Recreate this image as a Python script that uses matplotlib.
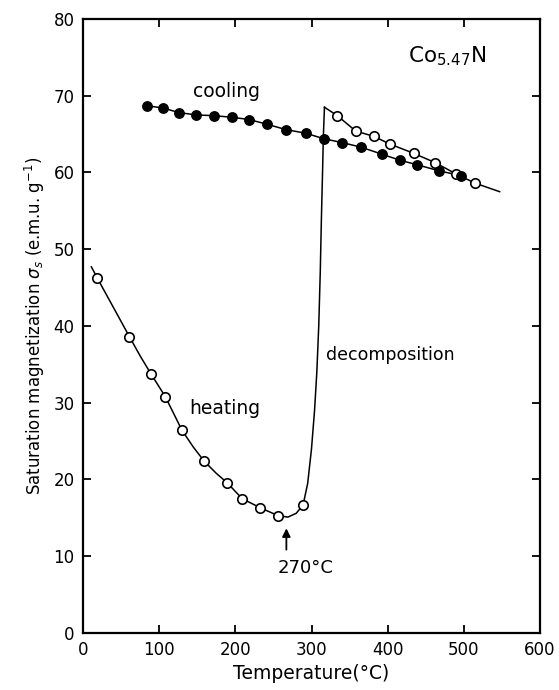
import matplotlib
matplotlib.use("Agg")
import matplotlib.pyplot as plt

# cooling run (filled circles)
cool_T = [84, 105, 126, 149, 172, 195, 218, 241, 266, 293, 316, 340, 365, 392, 416, 439, 468, 496]
cool_s = [68.7, 68.4, 67.8, 67.5, 67.4, 67.2, 66.9, 66.3, 65.6, 65.1, 64.4, 63.9, 63.3, 62.4, 61.6, 61.0, 60.2, 59.6]

# heating run, low-temperature branch (open circles)
heat_T = [19, 61, 89, 108, 130, 159, 189, 209, 233, 256, 289]
heat_s = [46.2, 38.6, 33.8, 30.8, 26.4, 22.4, 19.6, 17.5, 16.3, 15.3, 16.7]

# heating curve drawn through the points, incl. minimum and decomposition rise
heat_line_T = [11, 19, 40, 61, 75, 89, 108, 130, 145, 159, 175, 189, 209, 233, 256, 269, 280, 289,
               295, 300, 304, 307, 309.5, 311.5, 313, 314.5, 315.5, 317]
heat_line_s = [47.7, 46.2, 42.4, 38.6, 36.1, 33.8, 30.8, 26.4, 24.2, 22.4, 20.8, 19.6, 17.5, 16.3, 15.3,
               15.1, 15.6, 16.7, 19.5, 24.0, 29.0, 34.0, 40.0, 47.0, 54.0, 60.0, 64.5, 68.5]

# heating run after decomposition (open circles)
hot_T = [334, 358, 382, 403, 434, 462, 490, 515]
hot_s = [67.4, 65.4, 64.7, 63.7, 62.5, 61.3, 59.8, 58.6]
hot_line_T = [317] + hot_T + [547]
hot_line_s = [68.5] + hot_s + [57.5]

fs = 12
fig = plt.figure(figsize=(5.59, 6.90), dpi=100)
ax = fig.add_axes([0.1485, 0.0826, 0.8175, 0.8899])

ax.plot(heat_line_T, heat_line_s, color="black", lw=1.1, zorder=2)
ax.plot(hot_line_T, hot_line_s, color="black", lw=1.1, zorder=2)
ax.plot(cool_T, cool_s, color="black", lw=1.1, zorder=2)

ax.plot(cool_T, cool_s, "o", ms=6.8, mfc="black", mec="black", zorder=4)
ax.plot(heat_T, heat_s, "o", ms=6.8, mfc="white", mec="black", mew=1.2, zorder=3)
ax.plot(hot_T, hot_s, "o", ms=6.8, mfc="white", mec="black", mew=1.2, zorder=3)

ax.annotate("", xy=(267, 14.0), xytext=(267, 10.5),
            arrowprops=dict(arrowstyle="-|>", color="black", lw=1.3, mutation_scale=12))
ax.text(292, 8.5, "270°C", ha="center", va="center", fontsize=13)
ax.text(189, 70.6, "cooling", ha="center", va="center", fontsize=13.5)
ax.text(186, 29.2, "heating", ha="center", va="center", fontsize=13.5)
ax.text(404, 36.2, "decomposition", ha="center", va="center", fontsize=12.5)
ax.text(478, 75.1, r"Co$_{5.47}$N", ha="center", va="center", fontsize=15.5)

ax.set_xlim(0, 600)
ax.set_ylim(0, 80)
ax.set_xticks(range(0, 601, 100))
ax.set_yticks(range(0, 81, 10))
ax.tick_params(direction="in", length=6, width=1.3, labelsize=fs, top=True, right=True, pad=6)
for sp in ax.spines.values():
    sp.set_linewidth(1.6)

ax.set_xlabel("Temperature(°C)", fontsize=13.5, labelpad=3)
ax.set_ylabel(r"Saturation magnetization $\sigma_s$ (e.m.u. g$^{-1}$)", fontsize=12, labelpad=5)

fig.savefig("out.png", dpi=100)
